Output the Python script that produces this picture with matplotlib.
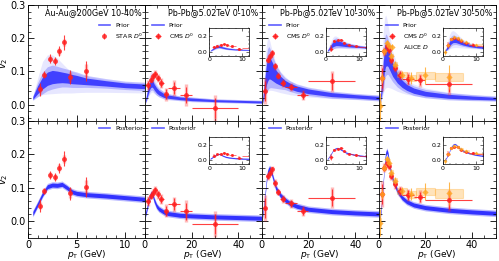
import numpy as np
import matplotlib.pyplot as plt
from matplotlib.ticker import MultipleLocator
from matplotlib.patches import Rectangle

# ---- model bands ----
# Au-Au 200 GeV 10-40%
pt_au = [0.5, 1, 1.5, 2, 2.5, 3, 3.5, 4, 4.5, 5, 6, 8, 10, 12]
post_au = [0.022, 0.05, 0.08, 0.103, 0.108, 0.107, 0.11, 0.1, 0.088, 0.083, 0.079, 0.075, 0.07, 0.065]
prior_au = [0.02, 0.045, 0.065, 0.078, 0.083, 0.083, 0.082, 0.08, 0.077, 0.075, 0.07, 0.064, 0.058, 0.055]
prior_au_hw = [0.004, 0.012, 0.018, 0.02, 0.02, 0.018, 0.016, 0.015, 0.014, 0.013, 0.01, 0.008, 0.007, 0.007]
prior_au_hi = [0.025, 0.08, 0.13, 0.15, 0.15, 0.14, 0.125, 0.11, 0.1, 0.095, 0.085, 0.075, 0.068, 0.065]
prior_au_lo = [0.015, 0.025, 0.03, 0.032, 0.033, 0.034, 0.035, 0.035, 0.035, 0.036, 0.037, 0.037, 0.036, 0.035]

# Pb-Pb 5.02 TeV 0-10%
pt_c0 = [0.3, 1, 2, 2.5, 3, 3.5, 4, 5, 6, 8, 10, 15, 20, 30, 40, 50]
post_c0 = [0.02, 0.04, 0.07, 0.08, 0.082, 0.075, 0.062, 0.045, 0.036, 0.027, 0.022, 0.017, 0.015, 0.012, 0.01, 0.008]
prior_c0 = [0.01, 0.03, 0.055, 0.062, 0.064, 0.06, 0.053, 0.043, 0.036, 0.028, 0.024, 0.019, 0.016, 0.012, 0.01, 0.008]
prior_c0_hw = [0.003, 0.008, 0.01, 0.011, 0.011, 0.01, 0.009, 0.008, 0.007, 0.006, 0.005, 0.004, 0.004, 0.003, 0.003, 0.003]
prior_c0_hi = [0.015, 0.05, 0.09, 0.1, 0.1, 0.092, 0.08, 0.065, 0.052, 0.04, 0.033, 0.026, 0.022, 0.017, 0.014, 0.012]
prior_c0_lo = [0.005, 0.015, 0.03, 0.035, 0.038, 0.036, 0.033, 0.028, 0.024, 0.02, 0.017, 0.013, 0.011, 0.008, 0.006, 0.005]

# Pb-Pb 5.02 TeV 10-30%
pt_c1 = [0.4, 1, 2, 2.5, 3, 3.5, 4, 5, 6, 8, 10, 12, 15, 20, 30, 40, 50]
post_c1 = [0.015, 0.05, 0.12, 0.145, 0.155, 0.158, 0.15, 0.125, 0.1, 0.077, 0.063, 0.053, 0.044, 0.035, 0.028, 0.024, 0.021]
prior_c1 = [0.01, 0.04, 0.09, 0.105, 0.112, 0.11, 0.105, 0.095, 0.085, 0.072, 0.063, 0.056, 0.048, 0.04, 0.03, 0.025, 0.02]
prior_c1_hw = [0.005, 0.015, 0.03, 0.035, 0.035, 0.033, 0.03, 0.025, 0.02, 0.014, 0.01, 0.009, 0.008, 0.007, 0.006, 0.005, 0.005]
prior_c1_hi = [0.015, 0.08, 0.18, 0.2, 0.2, 0.19, 0.175, 0.15, 0.125, 0.1, 0.085, 0.072, 0.06, 0.05, 0.038, 0.032, 0.028]
prior_c1_lo = [0.005, 0.02, 0.035, 0.04, 0.042, 0.043, 0.043, 0.042, 0.04, 0.036, 0.033, 0.03, 0.027, 0.023, 0.018, 0.015, 0.013]

# Pb-Pb 5.02 TeV 30-50%
pt_c2 = [0.5, 1, 1.5, 2, 2.5, 3, 3.5, 4, 5, 6, 8, 10, 12, 15, 20, 30, 40, 50]
post_c2 = [0.005, 0.03, 0.07, 0.12, 0.17, 0.2, 0.21, 0.2, 0.155, 0.125, 0.09, 0.07, 0.058, 0.048, 0.04, 0.032, 0.027, 0.023]
prior_c2 = [0.005, 0.03, 0.06, 0.1, 0.135, 0.15, 0.15, 0.145, 0.125, 0.105, 0.08, 0.063, 0.052, 0.042, 0.033, 0.025, 0.021, 0.018]
prior_c2_hw = [0.003, 0.01, 0.02, 0.03, 0.035, 0.035, 0.033, 0.03, 0.025, 0.02, 0.015, 0.011, 0.009, 0.008, 0.007, 0.006, 0.005, 0.004]
prior_c2_hi = [0.01, 0.06, 0.14, 0.22, 0.26, 0.27, 0.26, 0.24, 0.2, 0.16, 0.12, 0.09, 0.075, 0.062, 0.05, 0.037, 0.031, 0.027]
prior_c2_lo = [0.0, 0.01, 0.02, 0.035, 0.045, 0.05, 0.052, 0.052, 0.05, 0.047, 0.04, 0.035, 0.031, 0.027, 0.022, 0.016, 0.013, 0.011]

# ---- data ----
star_pt = [1.28, 1.69, 2.26, 2.74, 3.21, 3.72, 4.36, 6.01]
star_v2 = [0.046, 0.09, 0.138, 0.132, 0.16, 0.187, 0.083, 0.102]
star_err = [0.02, 0.01, 0.013, 0.012, 0.015, 0.022, 0.02, 0.03]
star_sys = [0.01, 0.008, 0.008, 0.008, 0.01, 0.012, 0.015, 0.02]

cms_pt = [1.5, 2.5, 3.5, 4.5, 5.5, 7, 9, 12.5, 17.5, 30]
cms_xerr = [0.5, 0.5, 0.5, 0.5, 0.5, 1, 1, 2.5, 2.5, 10]
cms0_v2 = [0.06, 0.075, 0.085, 0.092, 0.08, 0.066, 0.031, 0.05, 0.029, -0.009]
cms0_err = [0.012, 0.008, 0.008, 0.009, 0.01, 0.012, 0.015, 0.018, 0.025, 0.03]
cms1_v2 = [0.04, 0.135, 0.145, 0.155, 0.115, 0.087, 0.066, 0.053, 0.029, 0.07]
cms1_err = [0.03, 0.008, 0.007, 0.008, 0.009, 0.008, 0.009, 0.01, 0.012, 0.025]
cms2_v2 = [0.08, 0.16, 0.175, 0.165, 0.135, 0.11, 0.09, 0.078, 0.073, 0.062]
cms2_err = [0.03, 0.01, 0.01, 0.01, 0.01, 0.01, 0.012, 0.015, 0.015, 0.025]

alice_pt = [0.75, 1.5, 2.5, 3.5, 4.5, 5.5, 7, 10, 14, 20, 30]
alice_xerr = [0.25, 0.5, 0.5, 0.5, 0.5, 0.5, 1, 2, 2, 4, 6]
alice_v2 = [-0.005, 0.08, 0.16, 0.185, 0.175, 0.145, 0.12, 0.09, 0.08, 0.088, 0.083]
alice_err = [0.04, 0.015, 0.01, 0.01, 0.01, 0.012, 0.012, 0.012, 0.018, 0.025, 0.035]
alice_sys = [0.015, 0.008, 0.008, 0.008, 0.008, 0.008, 0.008, 0.008, 0.01, 0.01, 0.013]

titles = ["Au-Au@200GeV 10-40%", "Pb-Pb@5.02TeV 0-10%",
          "Pb-Pb@5.02TeV 10-30%", "Pb-Pb@5.02TeV 30-50%"]

models = [
    (pt_au, post_au, prior_au, prior_au_hw, prior_au_hi, prior_au_lo),
    (pt_c0, post_c0, prior_c0, prior_c0_hw, prior_c0_hi, prior_c0_lo),
    (pt_c1, post_c1, prior_c1, prior_c1_hw, prior_c1_hi, prior_c1_lo),
    (pt_c2, post_c2, prior_c2, prior_c2_hw, prior_c2_hi, prior_c2_lo),
]

BLUE = "#1a1aff"
RED = "#ff2020"
ORANGE = "#ffa520"


def draw_model(ax, i, prior):
    pt, post, pc, phw, phi, plo = [np.array(a) for a in models[i]]
    if prior:
        ax.fill_between(pt, plo, phi, color=BLUE, alpha=0.1, lw=0)
        ax.fill_between(pt, pc - 1.8 * phw, pc + 1.8 * phw, color=BLUE, alpha=0.25, lw=0)
        ax.fill_between(pt, pc - phw, pc + phw, color=BLUE, alpha=0.75, lw=0)
    else:
        ax.fill_between(pt, post - 0.01, post + 0.01, color=BLUE, alpha=0.3, lw=0)
        ax.fill_between(pt, post - 0.006, post + 0.006, color=BLUE, alpha=0.85, lw=0)


def draw_cms(ax, v2, err, ms=3.5, lw=0.8):
    ax.errorbar(cms_pt, v2, yerr=np.array(err) * 1.3, fmt="none", ecolor=RED,
                elinewidth=lw * 3, alpha=0.3)
    h = ax.errorbar(cms_pt, v2, yerr=err, xerr=cms_xerr, fmt="o", color=RED,
                    ms=ms, elinewidth=lw, alpha=0.85, mec="none")
    return h


def draw_alice(ax, ms=3.5, lw=0.8):
    for x, y, dx, s in zip(alice_pt, alice_v2, alice_xerr, alice_sys):
        ax.add_patch(Rectangle((x - dx, y - s), 2 * dx, 2 * s, fc=ORANGE,
                               ec=ORANGE, alpha=0.3, lw=lw))
    h = ax.errorbar(alice_pt, alice_v2, yerr=alice_err, fmt="D", color=ORANGE,
                    ms=ms * 0.9, elinewidth=lw, alpha=0.8, mec="none")
    return h


def draw_data(ax, i, ms=3.5, lw=0.8):
    handles = []
    if i == 0:
        ax.errorbar(star_pt, star_v2, yerr=np.array(star_sys), fmt="none",
                    ecolor=RED, elinewidth=lw * 3, alpha=0.3)
        h = ax.errorbar(star_pt, star_v2, yerr=star_err, fmt="o", color=RED,
                        ms=ms, elinewidth=lw, alpha=0.85, mec="none")
        handles.append((h, "STAR $D^0$"))
    elif i == 1:
        handles.append((draw_cms(ax, cms0_v2, cms0_err, ms, lw), "CMS $D^0$"))
    elif i == 2:
        handles.append((draw_cms(ax, cms1_v2, cms1_err, ms, lw), "CMS $D^0$"))
    else:
        handles.append((draw_cms(ax, cms2_v2, cms2_err, ms, lw), "CMS $D^0$"))
        handles.append((draw_alice(ax, ms, lw), "ALICE $D$"))
    return handles


def style(ax, fs=7):
    ax.tick_params(which="both", direction="in", top=True, right=True,
                   labelsize=fs, pad=1.5)
    ax.tick_params(which="major", length=4, width=0.6)
    ax.tick_params(which="minor", length=2, width=0.5)
    for s in ax.spines.values():
        s.set_linewidth(0.6)


fig, axes = plt.subplots(2, 4, figsize=(4.99, 2.61), dpi=100, sharey=True)
fig.subplots_adjust(left=0.056, right=0.993, top=0.981, bottom=0.09,
                    wspace=0, hspace=0)

for r in range(2):
    prior = (r == 0)
    for i in range(4):
        ax = axes[r, i]
        draw_model(ax, i, prior)
        handles = draw_data(ax, i)
        line = plt.Line2D([], [], color=BLUE, lw=1.2, alpha=0.7)
        ax.set_ylim(-0.05, 0.3)
        if i == 0:
            ax.set_xlim(0, 12)
            ax.xaxis.set_major_locator(MultipleLocator(5))
            ax.xaxis.set_minor_locator(MultipleLocator(1))
        else:
            ax.set_xlim(0, 50)
            ax.xaxis.set_major_locator(MultipleLocator(20))
            ax.xaxis.set_minor_locator(MultipleLocator(5))
        ax.yaxis.set_major_locator(MultipleLocator(0.1))
        ax.yaxis.set_minor_locator(MultipleLocator(0.02))
        style(ax)
        if r == 0:
            ax.tick_params(labelbottom=False)
            ax.text(0.97, 0.935, titles[i], transform=ax.transAxes, ha="right",
                    va="center", fontsize=5.8)
            items = [(line, "Prior")] + handles
            loc = (0.6, 0.85) if i == 0 else (0.06, 0.85)
        else:
            ax.set_xlabel("$p_{\\mathrm{T}}$ (GeV)", fontsize=6.5, labelpad=-1)
            items = [(line, "Posterior")]
            loc = (0.6, 0.965) if i == 0 else (0.06, 0.965)
        leg = ax.legend([h for h, _ in items], [t for _, t in items],
                        loc="upper left", bbox_to_anchor=loc, fontsize=4.5,
                        frameon=False, handlelength=1.8, borderaxespad=0,
                        borderpad=0.1, labelspacing=0.45, handletextpad=0.8)
        if i == 0:
            ax.set_ylabel("$v_2$", fontsize=7, labelpad=0)
        else:
            ins = ax.inset_axes([0.55, 0.565 if r == 0 else 0.63, 0.34, 0.235])
            draw_model(ins, i, prior)
            draw_data(ins, i, ms=2.2, lw=0.5)
            ins.set_xlim(0, 12)
            ins.set_ylim(-0.05, 0.3)
            ins.xaxis.set_major_locator(MultipleLocator(10))
            ins.xaxis.set_minor_locator(MultipleLocator(2))
            ins.yaxis.set_major_locator(MultipleLocator(0.2))
            ins.yaxis.set_minor_locator(MultipleLocator(0.05))
            ins.tick_params(which="both", direction="in", top=True, right=True,
                            labelsize=4.5, pad=1)
            ins.tick_params(which="major", length=2, width=0.4)
            ins.tick_params(which="minor", length=1, width=0.3)
            for s in ins.spines.values():
                s.set_linewidth(0.5)

fig.savefig("out.png", dpi=100)
